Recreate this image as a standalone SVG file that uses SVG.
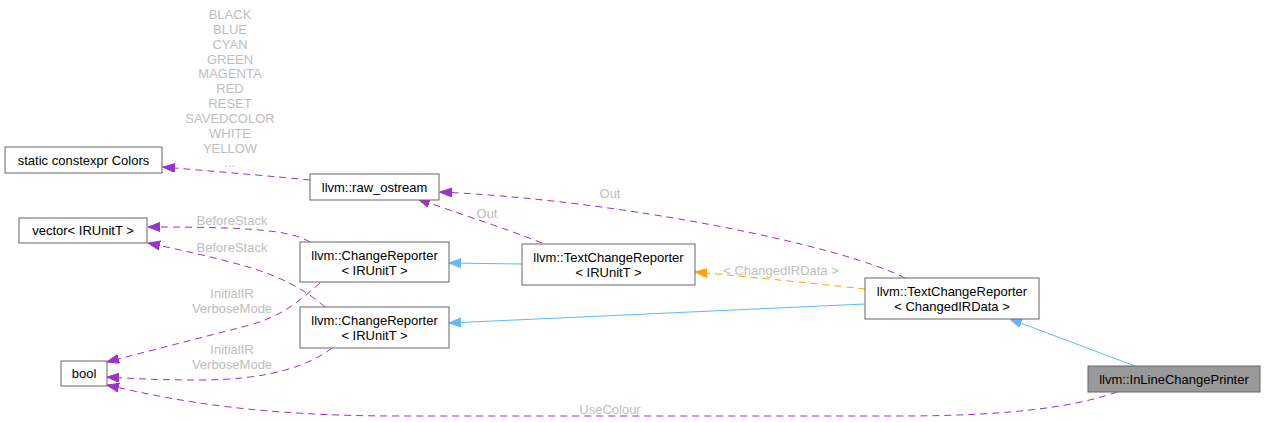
<svg xmlns="http://www.w3.org/2000/svg" width="1265" height="422" viewBox="0 0 1265 422">
<style>
  text { font-family: "Liberation Sans", Arial, sans-serif; font-size: 13px; text-anchor: middle; }
  .node rect { fill: #ffffff; stroke: #666666; stroke-width: 1; }
  .node text { fill: #000000; }
  #n_inline rect { fill: #999999; }
  .lbl { fill: #bebebe; }
  .e { fill: none; stroke-width: 1; }
  .purple { stroke: #9a32cd; stroke-dasharray: 7,5; }
  .blue { stroke: #63b8ff; }
  .orange { stroke: #ffa500; stroke-dasharray: 7,5; }
</style>
<defs>
  <marker id="ap" markerWidth="14" markerHeight="11" refX="12" refY="4.5" orient="auto" markerUnits="userSpaceOnUse">
    <path d="M0,0 L12,4.5 L0,9 z" fill="#9a32cd" stroke="#9a32cd"/>
  </marker>
  <marker id="ab" markerWidth="14" markerHeight="11" refX="12" refY="4.5" orient="auto" markerUnits="userSpaceOnUse">
    <path d="M0,0 L12,4.5 L0,9 z" fill="#63b8ff" stroke="#63b8ff"/>
  </marker>
  <marker id="ao" markerWidth="14" markerHeight="11" refX="12" refY="4.5" orient="auto" markerUnits="userSpaceOnUse">
    <path d="M0,0 L12,4.5 L0,9 z" fill="#ffa500" stroke="#ffa500"/>
  </marker>
</defs>

<g id="edges">
  <path class="e purple" d="M310,180 C 270,176 210,171 163,167" marker-end="url(#ap)"/>
  <path class="e purple" d="M542,243 C 510,230 460,214 418,199" marker-end="url(#ap)"/>
  <path class="e purple" d="M905,278 C 840,245 620,200 440,192" marker-end="url(#ap)"/>
  <path class="e purple" d="M310,242 C 290,230 250,227 148,227" marker-end="url(#ap)"/>
  <path class="e purple" d="M325,307 C 300,285 270,272 230,262 C 200,254 180,250 148,243" marker-end="url(#ap)"/>
  <path class="e purple" d="M320,283 C 300,300 285,315 250,325 C 200,338 160,348 107,362" marker-end="url(#ap)"/>
  <path class="e purple" d="M332,348 C 310,365 270,380 200,380 C 160,380 140,379 107,377" marker-end="url(#ap)"/>
  <path class="e purple" d="M1117,392 C 1080,405 1020,416 900,416 L 400,416 C 260,416 180,402 107,385" marker-end="url(#ap)"/>
  <path class="e blue" d="M522,264 L 449,263" marker-end="url(#ab)"/>
  <path class="e blue" d="M865,304 L 449,323" marker-end="url(#ab)"/>
  <path class="e blue" d="M1135,366 L 1010,319" marker-end="url(#ab)"/>
  <path class="e orange" d="M865,289 C 820,284 760,278 695,272" marker-end="url(#ao)"/>

  <g class="lbl">
    <text x="230" y="18.7" class="lbl">BLACK</text>
    <text x="230" y="33.6" class="lbl">BLUE</text>
    <text x="230" y="48.5" class="lbl">CYAN</text>
    <text x="230" y="63.5" class="lbl">GREEN</text>
    <text x="230" y="78.4" class="lbl">MAGENTA</text>
    <text x="230" y="93.3" class="lbl">RED</text>
    <text x="230" y="108.2" class="lbl">RESET</text>
    <text x="230" y="123.1" class="lbl">SAVEDCOLOR</text>
    <text x="230" y="138.1" class="lbl">WHITE</text>
    <text x="230" y="153" class="lbl">YELLOW</text>
    <text x="230" y="167" class="lbl">...</text>
    <text x="487" y="218" class="lbl">Out</text>
    <text x="610" y="198" class="lbl">Out</text>
    <text x="232" y="225" class="lbl">BeforeStack</text>
    <text x="232" y="252" class="lbl">BeforeStack</text>
    <text x="232" y="298" class="lbl">InitialIR</text>
    <text x="232" y="313" class="lbl">VerboseMode</text>
    <text x="232" y="354" class="lbl">InitialIR</text>
    <text x="232" y="369" class="lbl">VerboseMode</text>
    <text x="781" y="274.5" class="lbl">&lt; ChangedIRData &gt;</text>
    <text x="610" y="413.5" class="lbl">UseColour</text>
  </g>
</g>

<g id="n_colors" class="node">
  <rect x="5" y="147" width="157" height="26"/>
  <text x="83.5" y="164.5">static constexpr Colors</text>
</g>
<g id="n_raw_ostream" class="node">
  <rect x="310" y="174" width="129" height="26"/>
  <text x="374.5" y="191.5">llvm::raw_ostream</text>
</g>
<g id="n_vector" class="node">
  <rect x="19" y="218" width="128" height="25"/>
  <text x="83" y="235">vector&lt; IRUnitT &gt;</text>
</g>
<g id="n_cr1" class="node">
  <rect x="300" y="242" width="149" height="40"/>
  <text x="374.5" y="260">llvm::ChangeReporter</text>
  <text x="374.5" y="275">&lt; IRUnitT &gt;</text>
</g>
<g id="n_cr2" class="node">
  <rect x="300" y="307" width="149" height="41"/>
  <text x="374.5" y="325.3">llvm::ChangeReporter</text>
  <text x="374.5" y="340.3">&lt; IRUnitT &gt;</text>
</g>
<g id="n_bool" class="node">
  <rect x="61" y="361" width="46" height="25"/>
  <text x="84" y="378">bool</text>
</g>
<g id="n_tcr_ir" class="node">
  <rect x="522" y="244" width="173" height="41"/>
  <text x="608.5" y="262.3">llvm::TextChangeReporter</text>
  <text x="608.5" y="277.3">&lt; IRUnitT &gt;</text>
</g>
<g id="n_tcr_changed" class="node">
  <rect x="865" y="278" width="174" height="41"/>
  <text x="952" y="296.3">llvm::TextChangeReporter</text>
  <text x="952" y="311.3">&lt; ChangedIRData &gt;</text>
</g>
<g id="n_inline" class="node">
  <rect x="1088" y="366" width="172" height="26"/>
  <text x="1174" y="384">llvm::InLineChangePrinter</text>
</g>
</svg>
